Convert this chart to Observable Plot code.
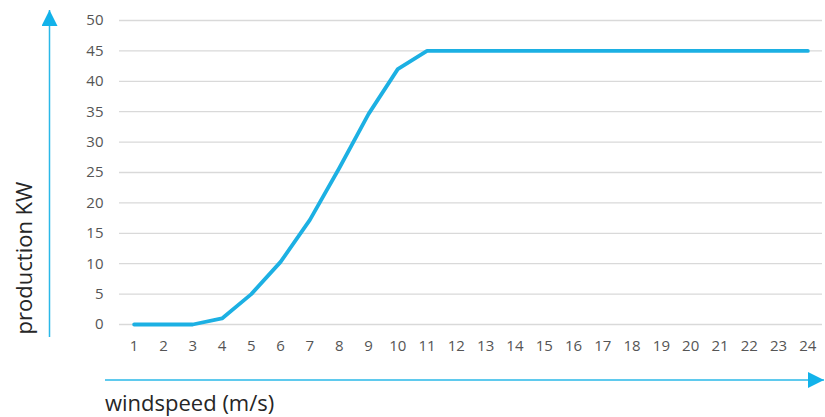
<!DOCTYPE html>
<html><head><meta charset="utf-8">
<script src="https://cdn.jsdelivr.net/npm/d3@7"></script>
<script src="https://cdn.jsdelivr.net/npm/@observablehq/plot@0.6"></script>
<style>body{margin:0;background:#fff}</style>
</head><body><div id="chart"></div>
<script>
const windspeed = [1,2,3,4,5,6,7,8,9,10,11,12,13,14,15,16,17,18,19,20,21,22,23,24];
const production = [0,0,0,1,5,10.3,17.2,25.7,34.6,42,45,45,45,45,45,45,45,45,45,45,45,45,45,45];
const yTicks = [0,5,10,15,20,25,30,35,40,45,50];
const data = windspeed.map((w,i)=>({w, p: production[i]}));
const blue = "#1cb0e3";

const chart = Plot.plot({
  width: 825, height: 417,
  marginLeft: 119, marginRight: 3, marginTop: 20, marginBottom: 93,
  style: {fontFamily: "'Open Sans', sans-serif", fontSize: "15px", color: "#555", background: "#fff"},
  x: {type: "point", domain: windspeed, padding: 0.5, round: false, label: null},
  y: {domain: [0,50], label: null},
  marks: [
    Plot.gridY(yTicks, {stroke: "#d9d9d9", strokeOpacity: 1, strokeWidth: 1.3}),
    Plot.axisX({tickSize: 0, tickPadding: 16, label: null, fontSize: 15}),
    Plot.axisY(yTicks, {tickSize: 0, tickPadding: 16, label: null, fontSize: 15}),
    Plot.line(data, {x: "w", y: "p", stroke: blue, strokeWidth: 3.8, strokeLinejoin: "round"})
  ]
});
document.getElementById("chart").append(chart);

const svg = d3.select(chart);
const arrowColor = "#2ab8e8";
const defs = svg.append("defs");
defs.append("marker").attr("id","ah").attr("viewBox","0 0 10 10").attr("refX",10).attr("refY",5)
  .attr("markerWidth",16).attr("markerHeight",16).attr("markerUnits","userSpaceOnUse").attr("orient","auto")
  .append("path").attr("d","M0,0 L10,5 L0,10 Z").attr("fill","#12b2ea");
svg.append("line").attr("x1",49.5).attr("y1",337).attr("x2",49.5).attr("y2",10)
  .attr("stroke",arrowColor).attr("stroke-width",1.5).attr("marker-end","url(#ah)");
svg.append("line").attr("x1",105).attr("y1",380).attr("x2",824).attr("y2",380)
  .attr("stroke",arrowColor).attr("stroke-width",1.5).attr("marker-end","url(#ah)");
svg.append("text").attr("transform","translate(32,258) rotate(-90)").attr("text-anchor","middle")
  .attr("font-size",22).attr("fill","#262626").attr("font-family","'Open Sans', sans-serif").text("production KW");
svg.append("text").attr("x",105).attr("y",411).attr("text-anchor","start").attr("font-size",22).attr("fill","#262626")
  .attr("font-family","'Open Sans', sans-serif").text("windspeed (m/s)");
</script></body></html>
